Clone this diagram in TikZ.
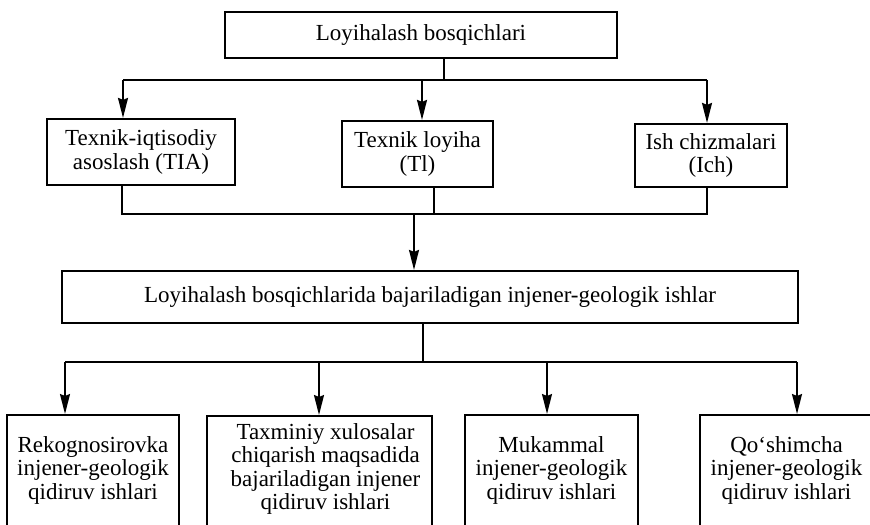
\documentclass[tikz,border=0pt]{standalone}
\usepackage{fontspec}
\setmainfont{Liberation Serif}
\usetikzlibrary{arrows.meta}

\tikzset{
  box/.style={draw, line width=1.1pt, inner sep=0pt, align=center,
    font=\fontsize{11.5}{11.75}\selectfont},
  lowbox/.style={draw, line width=1.1pt, anchor=north, minimum height=80pt},
  lowtxt/.style={inner sep=0pt, anchor=north, align=center,
    font=\fontsize{11.5}{11.75}\selectfont},
  line/.style={line width=0.9pt},
  stem/.style={line width=0.6pt}
}

\begin{document}
\begin{tikzpicture}[>={Stealth[length=10pt,width=5pt,inset=1pt]}, x=0.5pt, y=-0.5pt]
  \useasboundingbox (0,0) rectangle (870,524);

  % Blocchi superiori
  \node[box, minimum width=196pt, minimum height=23pt] (top) at (421,35) {Loyihalash bosqichlari};
  \node[box, minimum width=94pt, minimum height=33pt] (tia) at (141,152) {Texnik-iqtisodiy\\asoslash (TIA)};
  \node[box, minimum width=75.5pt, minimum height=33pt] (ti) at (417.5,154) {Texnik loyiha\\(Tl)};
  \node[box, minimum width=76pt, minimum height=31.5pt] (ich) at (711,155.5) {Ish chizmalari\\(Ich)};

  % Blocco centrale
  \node[box, minimum width=368pt, minimum height=26pt] (big) at (430,297) {Loyihalash bosqichlarida bajariladigan injener-geologik ishlar};

  % Blocchi inferiori (tagliati dal bordo)
  \node[lowbox, minimum width=86pt] (b1) at (93,414) {};
  \node[lowbox, minimum width=112.5pt] (b2) at (319.5,415) {};
  \node[lowbox, minimum width=86.5pt] (b3) at (551.5,414) {};
  \node[lowbox, minimum width=86.5pt] (b4) at (786.5,414) {};
  \node[lowtxt] (t1) at ([yshift=-11pt]b1.north) {Rekognosirovka\\injener-geologik\\qidiruv ishlari};
  \node[lowtxt] (t2) at ([yshift=-4pt]b2.north -| 325.5,0) {Taxminiy xulosalar\\chiqarish maqsadida\\bajariladigan injener\\qidiruv ishlari};
  \node[lowtxt] (t3) at ([yshift=-11pt]b3.north) {Mukammal\\injener-geologik\\qidiruv ishlari};
  \node[lowtxt] (t4) at ([yshift=-11pt]b4.north) {Qo‘shimcha\\injener-geologik\\qidiruv ishlari};

  % Diramazione dall'alto
  \coordinate (s0) at (444,80);
  \coordinate (a1) at (123,80);
  \coordinate (a2) at (422,80);
  \coordinate (a3) at (707,80);
  \draw[stem] (top.south -| s0) -- (s0);
  \draw[line] (a1) -- (a3);
  \draw[line, ->] (a1) -- (a1 |- tia.north);
  \draw[line, ->] (a2) -- (a2 |- ti.north);
  \draw[line, ->] (a3) -- (a3 |- ich.north);

  % Raccolta verso il blocco centrale
  \coordinate (c1) at (122,214);
  \coordinate (c2) at (434,214);
  \coordinate (c3) at (707,214);
  \coordinate (c0) at (414,214);
  \draw[line] (tia.south -| c1) -- (c1) -- (c3) -- (ich.south -| c3);
  \draw[stem] (ti.south -| c2) -- (c2);
  \draw[line, ->] (c0) -- (c0 |- big.north);

  % Diramazione in basso
  \coordinate (d0) at (423,362);
  \coordinate (d1) at (65,362);
  \coordinate (d2) at (319,362);
  \coordinate (d3) at (547,362);
  \coordinate (d4) at (797,362);
  \draw[stem] (big.south -| d0) -- (d0);
  \draw[line] (d1) -- (d4);
  \foreach \i in {1,...,4}
    \draw[line, ->] (d\i) -- (d\i |- b\i.north);
\end{tikzpicture}
\end{document}
